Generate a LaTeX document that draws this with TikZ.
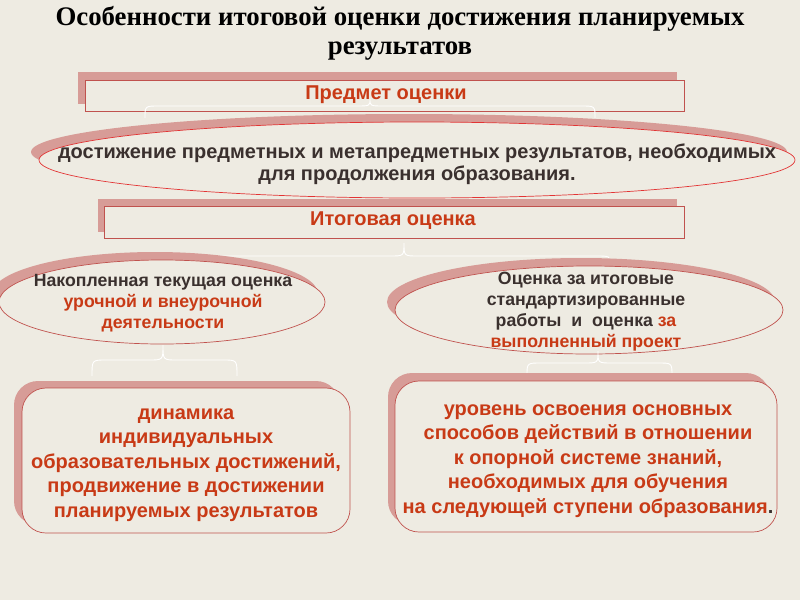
\documentclass[tikz,border=0pt]{standalone}
\usepackage{fontspec}
\setmainfont{Liberation Serif}
\newfontfamily\arial{Liberation Sans}
\usetikzlibrary{shapes.geometric}
\definecolor{bg}{RGB}{238,235,226}
\definecolor{shad}{RGB}{215,156,151}
\definecolor{edge}{RGB}{192,82,78}
\definecolor{redline}{RGB}{226,52,52}
\definecolor{orn}{RGB}{200,58,22}
\definecolor{dark}{RGB}{58,48,46}
\newcommand\bracepath[6]{% xl xr xm y0 y1 y2
  \draw[white,line width=0.9pt] (#1,#4) .. controls (#1,#5) .. (#1+14,#5) -- (#3-14,#5) .. controls (#3,#5) .. (#3,#6)
     .. controls (#3,#5) .. (#3+14,#5) -- (#2-14,#5) .. controls (#2,#5) .. (#2,#4);}
\begin{document}
\begin{tikzpicture}[x=1pt,y=-1pt,
  hdr/.style={font=\arial\bfseries\fontsize{20}{22}\selectfont, text=orn},
  shbox/.style={fill=shad},
  frbox/.style={draw=edge, line width=0.7pt, fill=bg},
  ell/.style={ellipse, inner sep=0pt},
  etxt/.style={font=\arial\bfseries\fontsize{17.7}{21}\selectfont, text=dark, align=center},
  btxt/.style={font=\arial\bfseries\fontsize{20}{24.5}\selectfont, text=orn, align=center}]
\fill[bg] (0,0) rectangle (800,600);
\useasboundingbox (0,0) rectangle (800,600);

% title
\node[font=\bfseries\fontsize{26.8}{29}\selectfont, align=center] (title) at (400,33)
  {Особенности итоговой оценки достижения планируемых\\результатов};

% Predmet box
\fill[shbox] (78,72) rectangle (677,104);
\node[frbox, minimum width=599pt, minimum height=31pt, inner sep=0pt] (pred) at (384.5,95.5) {};
\bracepath{145}{595}{370}{118}{106}{99}
\node[hdr] (predtext) at (386,95) {Предмет оценки};

% ellipse 1
\fill[shad] (409,152) ellipse [x radius=378, y radius=38];
\node[ell, draw=redline, line width=0.7pt, fill=bg, minimum width=756pt, minimum height=76pt] (dost) at (417,160) {};
\node[font=\arial\bfseries\fontsize{20}{22}\selectfont, text=dark, align=center] (dosttext) at (417,164)
  {достижение предметных и метапредметных результатов, необходимых\\для продолжения образования.};

% brace under Itogovaya
\bracepath{200}{610}{404}{264}{256}{243}

% Itogovaya box
\fill[shbox] (98,199) rectangle (677,232);
\node[frbox, minimum width=580pt, minimum height=32pt, inner sep=0pt] (itog) at (394,222) {};
\node[hdr] (itogtext) at (393,221) {Итоговая оценка};

% left ellipse
\fill[shad] (155,294) ellipse [x radius=163, y radius=42];
\node[ell, draw=edge, line width=0.7pt, fill=bg, minimum width=326pt, minimum height=84pt] (nak) at (162,302) {};
\node[etxt] (naktext) at (163,303)
  {Накопленная текущая оценка\\\textcolor{orn}{урочной и внеурочной}\\\textcolor{orn}{деятельности}};

% right ellipse
\fill[shad] (581,302) ellipse [x radius=194, y radius=44];
\node[ell, draw=edge, line width=0.7pt, fill=bg, minimum width=388pt, minimum height=88pt] (itg) at (589,310) {};
\node[etxt] (itgtext) at (586,312)
  {Оценка за итоговые\\стандартизированные\\работы~ и~ оценка \textcolor{orn}{за}\\\textcolor{orn}{выполненный проект}};

% braces under ellipses
\bracepath{92}{237}{163}{376}{360}{345}
\bracepath{527}{672}{598}{376}{363}{351}

% bottom-left box
\fill[shbox, rounded corners=24pt] (14,381) rectangle (340,525);
\node[frbox, rounded corners=24pt, minimum width=328pt, minimum height=145pt, inner sep=0pt] (din) at (186,460.5) {};
\node[btxt] (dintext) at (186,465)
  {динамика\\индивидуальных\\образовательных достижений,\\продвижение в достижении\\планируемых результатов};

% bottom-right box
\fill[shbox, rounded corners=24pt] (388,373) rectangle (770,525);
\node[frbox, rounded corners=24pt, minimum width=382pt, minimum height=151pt, inner sep=0pt] (ur) at (586,456.5) {};
\node[btxt] (urtext) at (588,461)
  {уровень освоения основных\\способов действий в отношении\\к опорной системе знаний,\\необходимых для обучения\\на следующей ступени образования\textcolor{dark}{.}};
\end{tikzpicture}
\end{document}
